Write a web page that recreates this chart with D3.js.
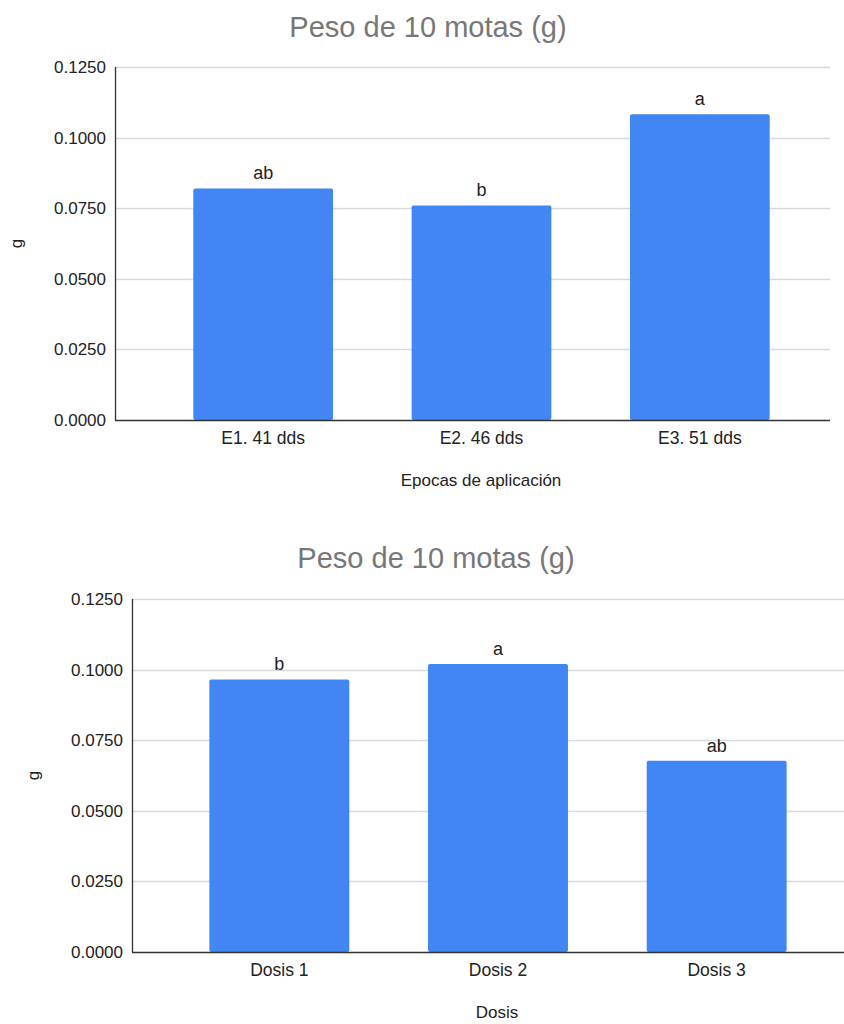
<!DOCTYPE html>
<html><head><meta charset="utf-8">
<script src="https://cdn.jsdelivr.net/npm/d3@7"></script>
<style>body{margin:0;background:#fff;} text{font-family:"Liberation Sans", Arial, sans-serif;}</style>
</head><body>
<svg id="c" width="844" height="1024"></svg>
<script>
const title = "Peso de 10 motas (g)";
const yTicks = [0, 0.025, 0.05, 0.075, 0.1, 0.125];
const cats1 = ["E1. 41 dds", "E2. 46 dds", "E3. 51 dds"];
const vals1 = [0.0820, 0.0760, 0.1083];
const letters1 = ["ab", "b", "a"];
const xTitle1 = "Epocas de aplicación";
const cats2 = ["Dosis 1", "Dosis 2", "Dosis 3"];
const vals2 = [0.0965, 0.1020, 0.0677];
const letters2 = ["b", "a", "ab"];
const xTitle2 = "Dosis";

const svg = d3.select("#c");
const FS = 17;

function chart(cfg) {
  const g = svg.append("g");
  const y = d3.scaleLinear().domain([0, 0.125]).range([cfg.y0, cfg.y1]);
  const x = d3.scaleBand().domain(cfg.cats).range([cfg.bx0, cfg.bx1]).paddingInner(0.36).paddingOuter(0.18);
  // title
  g.append("text").attr("x", cfg.tx).attr("y", cfg.ty).attr("text-anchor", "middle")
    .attr("font-size", 29).attr("fill", "#777").text(title);
  // grid
  g.selectAll("line.grid").data(yTicks.slice(1)).join("line")
    .attr("x1", cfg.ax).attr("x2", cfg.gx1)
    .attr("y1", d => Math.round(y(d)) + 0.5).attr("y2", d => Math.round(y(d)) + 0.5)
    .attr("stroke", "#d9d9d9").attr("stroke-width", 1.3);
  // y tick labels
  g.selectAll("text.yt").data(yTicks).join("text")
    .attr("x", cfg.ax - 9).attr("y", d => y(d)).attr("dy", "0.35em")
    .attr("text-anchor", "end").attr("font-size", FS).attr("fill", "#222")
    .text(d => d3.format(".4f")(d));
  // bars
  g.selectAll("rect.bar").data(cfg.vals).join("rect")
    .attr("x", (d, i) => x(cfg.cats[i])).attr("width", x.bandwidth())
    .attr("y", d => y(d)).attr("height", d => y(0) - y(d))
    .attr("rx", 2).attr("fill", "#4285F4");
  // letters
  g.selectAll("text.lt").data(cfg.vals).join("text")
    .attr("x", (d, i) => x(cfg.cats[i]) + x.bandwidth() / 2).attr("y", d => y(d) - 9)
    .attr("text-anchor", "middle").attr("font-size", FS + 1).attr("fill", "#222")
    .text((d, i) => cfg.letters[i]);
  // axes lines
  g.append("line").attr("x1", cfg.ax + 0.5).attr("x2", cfg.ax + 0.5)
    .attr("y1", cfg.y1).attr("y2", cfg.y0).attr("stroke", "#333").attr("stroke-width", 1.3);
  g.append("line").attr("x1", cfg.ax).attr("x2", cfg.gx1)
    .attr("y1", cfg.y0 + 0.5).attr("y2", cfg.y0 + 0.5).attr("stroke", "#333").attr("stroke-width", 1.3);
  // category labels
  g.selectAll("text.cat").data(cfg.cats).join("text")
    .attr("x", d => x(d) + x.bandwidth() / 2).attr("y", cfg.y0 + 24)
    .attr("text-anchor", "middle").attr("font-size", FS + 0.5).attr("fill", "#222").text(d => d);
  // x title
  g.append("text").attr("x", cfg.xtx).attr("y", cfg.y0 + 66).attr("text-anchor", "middle")
    .attr("font-size", FS).attr("fill", "#222").text(cfg.xTitle);
  // y title
  g.append("text").attr("transform", `translate(${cfg.gx},${(cfg.y0 + cfg.y1) / 2}) rotate(-90)`)
    .attr("text-anchor", "middle").attr("dy", "0.35em").attr("font-size", FS).attr("fill", "#222").text("g");
}

chart({cats: cats1, vals: vals1, letters: letters1, xTitle: xTitle1,
  y0: 420, y1: 67, ax: 115, gx1: 830, bx0: 154, bx1: 809, tx: 428, ty: 37, xtx: 481, gx: 16});
chart({cats: cats2, vals: vals2, letters: letters2, xTitle: xTitle2,
  y0: 952, y1: 599, ax: 132, gx1: 844, bx0: 170, bx1: 826, tx: 436, ty: 568, xtx: 497, gx: 33});
</script>
</body></html>
